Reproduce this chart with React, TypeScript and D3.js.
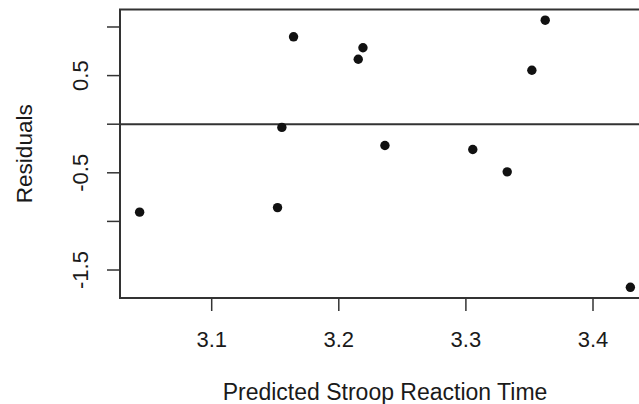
import React from "react";
import * as d3 from "d3";

const predicted = [3.0433, 3.1518, 3.1552, 3.1644, 3.2153, 3.219, 3.2363, 3.3054, 3.3325, 3.3519, 3.3624, 3.4294];
const residuals = [-0.905, -0.858, -0.033, 0.899, 0.668, 0.786, -0.219, -0.26, -0.49, 0.555, 1.07, -1.678];
const xTicks = [3.1, 3.2, 3.3, 3.4];
const xTickLabels = ["3.1", "3.2", "3.3", "3.4"];
const yTicks = [-1.5, -1, -0.5, 0, 0.5, 1];
const yTickLabels = ["-1.5", "", "-0.5", "", "0.5", ""];
const xTitle = "Predicted Stroop Reaction Time";
const yTitle = "Residuals";

const W = 639, H = 404;
const L = 120, R = 650, T = 9.5, B = 298;

function ext([a, b]: [number, number]): [number, number] {
  const d = (b - a) * 0.04;
  return [a - d, b + d];
}

export default function App() {
  const x = d3.scaleLinear().domain(ext(d3.extent(predicted) as [number, number])).range([L, R]);
  const y = d3.scaleLinear().domain(ext(d3.extent(residuals) as [number, number])).range([B, T]);
  const font = "'Liberation Sans', Arial, sans-serif";
  const stroke = "#333";
  return (
    <svg width={W} height={H} style={{ position: "absolute", left: 0, top: 0, background: "#fff" }} fontFamily={font}>
      <rect x={0} y={0} width={W} height={H} fill="#fff" />
      <path d={`M${R},${T}H${L}V${B}H${R}`} fill="none" stroke={stroke} strokeWidth={2} />
      <line x1={L} x2={R} y1={y(0)} y2={y(0)} stroke={stroke} strokeWidth={2} />
      {xTicks.map((t, i) => (
        <g key={t}>
          <line x1={x(t)} x2={x(t)} y1={B} y2={B + 13} stroke={stroke} strokeWidth={1.5} />
          <text x={x(t)} y={346.5} textAnchor="middle" fontSize={22} fill="#1a1a1a">{xTickLabels[i]}</text>
        </g>
      ))}
      {yTicks.map((t, i) => (
        <g key={t}>
          <line x1={L - 13} x2={L} y1={y(t)} y2={y(t)} stroke={stroke} strokeWidth={1.5} />
          {yTickLabels[i] && (
            <text transform={`translate(88,${y(t)}) rotate(-90)`} textAnchor="middle" fontSize={22} fill="#1a1a1a">{yTickLabels[i]}</text>
          )}
        </g>
      ))}
      <text x={(L + R) / 2} y={399.5} textAnchor="middle" fontSize={23} fill="#1a1a1a">{xTitle}</text>
      <text transform={`translate(32,${(T + B) / 2}) rotate(-90)`} textAnchor="middle" fontSize={22.6} fill="#1a1a1a">{yTitle}</text>
      {predicted.map((p, i) => (
        <circle key={i} cx={x(p)} cy={y(residuals[i])} r={4.7} fill="#111" />
      ))}
    </svg>
  );
}
